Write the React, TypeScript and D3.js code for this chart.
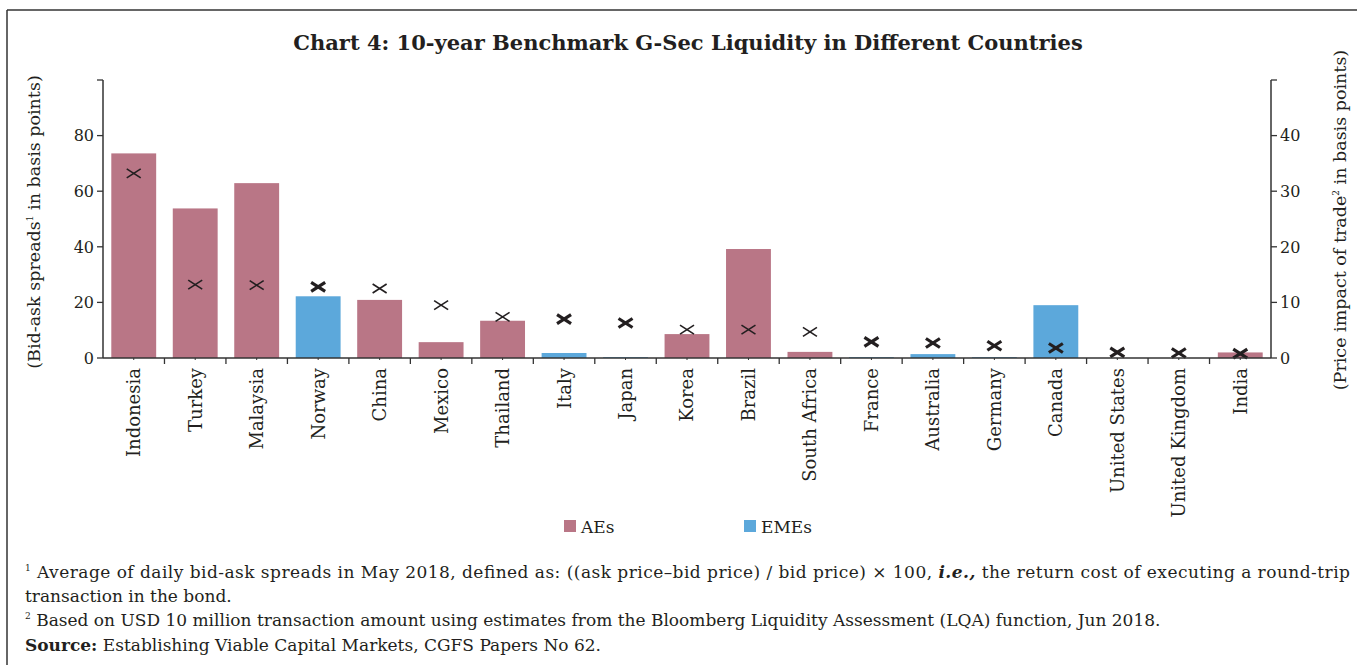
import React from 'react';
import * as d3 from 'd3';

const countries = ['Indonesia', 'Turkey', 'Malaysia', 'Norway', 'China', 'Mexico', 'Thailand', 'Italy', 'Japan', 'Korea', 'Brazil', 'South Africa', 'France', 'Australia', 'Germany', 'Canada', 'United States', 'United Kingdom', 'India'];
const groups = ['AEs', 'AEs', 'AEs', 'EMEs', 'AEs', 'AEs', 'AEs', 'EMEs', 'EMEs', 'AEs', 'AEs', 'AEs', 'EMEs', 'EMEs', 'EMEs', 'EMEs', 'EMEs', 'EMEs', 'AEs'];
// bid-ask spread, left axis
const bidAsk = [73.6, 53.8, 62.9, 22.2, 20.9, 5.7, 13.4, 1.8, 0.3, 8.6, 39.2, 2.2, 0.3, 1.4, 0.3, 19.0, 0, 0, 2.0];
// price impact of trade, right axis
const priceImpact = [33.2, 13.2, 13.1, 12.8, 12.5, 9.5, 7.4, 7.0, 6.3, 5.1, 5.1, 4.7, 2.9, 2.7, 2.2, 1.8, 1.0, 0.9, 0.8];
const heavyMarkers = ['Norway', 'Italy', 'Japan', 'France', 'Australia', 'Germany', 'Canada', 'United States', 'United Kingdom', 'India'];
const leftTicks = [0, 20, 40, 60, 80];
const rightTicks = [0, 10, 20, 30, 40];
const legendItems = ['AEs', 'EMEs'];

const colors: Record<string, string> = { AEs: '#b97686', EMEs: '#5ca8db' };
const font = '"DejaVu Serif", serif';
const ink = '#231f20';

const App = () => {
    const W = 1357, H = 665;
    const left = 103, right = 1271, top = 80, bottom = 358;

    const x = d3.scaleBand<string>()
        .domain(countries)
        .range([left, right])
        .paddingInner(0.27)
        .paddingOuter(0.135);
    const yL = d3.scaleLinear().domain([0, 100]).range([bottom, top]);
    const yR = d3.scaleLinear().domain([0, 50]).range([bottom, top]);
    const step = x.step();

    return (
        <svg width={W} height={H} style={{ position: 'absolute', left: 0, top: 0, background: '#fff' }} fontFamily={font}>
            {/* frame */}
            <line x1={7} x2={W} y1={10} y2={10} stroke="#666" strokeWidth={2} />
            <line x1={7} x2={7} y1={10} y2={H} stroke="#333" strokeWidth={1.5} />

            <text x={688} y={50} textAnchor="middle" fontSize={21} fontWeight="bold" fill={ink}>
                Chart 4: 10-year Benchmark G-Sec Liquidity in Different Countries
            </text>

            {/* bars */}
            {countries.map((c, i) =>
                <rect key={c} x={x(c)} width={x.bandwidth()} y={yL(bidAsk[i])} height={bottom - yL(bidAsk[i])}
                    fill={colors[groups[i]]} />
            )}

            {/* price impact markers */}
            {countries.map((c, i) => {
                const cx = x(c)! + x.bandwidth() / 2;
                const cy = yR(priceImpact[i]);
                const heavy = heavyMarkers.includes(c);
                const dx = 7, dy = 4.5;
                return (
                    <g key={c} stroke={ink} strokeWidth={heavy ? 3.2 : 1.6}>
                        <line x1={cx - dx} x2={cx + dx} y1={cy - dy} y2={cy + dy} />
                        <line x1={cx - dx} x2={cx + dx} y1={cy + dy} y2={cy - dy} />
                    </g>
                );
            })}

            {/* left axis */}
            <line x1={left} x2={left} y1={top} y2={bottom} stroke="#333" strokeWidth={1.5} />
            {leftTicks.map(t =>
                <g key={t}>
                    <line x1={left - 6} x2={left} y1={yL(t)} y2={yL(t)} stroke="#333" strokeWidth={1.3} />
                    <text x={left - 9} y={yL(t)} dy="0.36em" textAnchor="end" fontSize={16} fill={ink}>{t}</text>
                </g>
            )}
            <line x1={left - 6} x2={left} y1={top} y2={top} stroke="#333" strokeWidth={1.3} />

            {/* right axis */}
            <line x1={right} x2={right} y1={top} y2={bottom} stroke="#333" strokeWidth={1.5} />
            {rightTicks.map(t =>
                <g key={t}>
                    <line x1={right} x2={right + 6} y1={yR(t)} y2={yR(t)} stroke="#333" strokeWidth={1.3} />
                    <text x={right + 9} y={yR(t)} dy="0.36em" fontSize={16} fill={ink}>{t}</text>
                </g>
            )}
            <line x1={right} x2={right + 6} y1={top} y2={top} stroke="#333" strokeWidth={1.3} />

            {/* x axis */}
            <line x1={left} x2={right} y1={bottom} y2={bottom} stroke="#333" strokeWidth={1.5} />
            {countries.map((c, i) => {
                const cx = x(c)! + x.bandwidth() / 2;
                return (
                    <g key={c}>
                        {i > 0 && <line x1={cx - step / 2} x2={cx - step / 2} y1={bottom} y2={bottom + 6} stroke="#333" strokeWidth={1.3} />}
                        <line x1={cx} x2={cx} y1={bottom} y2={bottom + 2} stroke="#333" strokeWidth={1} />
                        <text transform={`translate(${cx},${bottom + 10}) rotate(-90)`} dy="0.36em" textAnchor="end" fontSize={18} fill={ink}>{c}</text>
                    </g>
                );
            })}

            {/* axis titles */}
            <text transform={`translate(34,222) rotate(-90)`} dy="0.36em" textAnchor="middle" fontSize={17.5} fill={ink}>
                (Bid-ask spreads<tspan fontSize={9} dy={-7}>1</tspan><tspan dy={7}> in basis points)</tspan>
            </text>
            <text transform={`translate(1340,220) rotate(-90)`} dy="0.36em" textAnchor="middle" fontSize={17.5} fill={ink}>
                (Price impact of trade<tspan fontSize={9} dy={-7}>2</tspan><tspan dy={7}> in basis points)</tspan>
            </text>

            {/* legend */}
            {legendItems.map((g, i) => {
                const lx = [564, 744][i];
                return (
                    <g key={g}>
                        <rect x={lx} y={520} width={12} height={12} fill={colors[g]} />
                        <text x={lx + 17} y={533} fontSize={17} fill={ink}>{g}</text>
                    </g>
                );
            })}

            {/* notes */}
            <g fontSize={17} fill={ink}>
                <text x={25} y={578} textLength={1325}>
                    <tspan fontSize={9} dy={-7}>1</tspan><tspan dy={7}> Average of daily bid-ask spreads in May 2018, defined as: ((ask price–bid price) / bid price) × 100, </tspan><tspan fontStyle="italic" fontWeight="bold">i.e.,</tspan> the return cost of executing a round-trip
                </text>
                <text x={25} y={602}>transaction in the bond.</text>
                <text x={25} y={626}>
                    <tspan fontSize={9} dy={-7}>2</tspan><tspan dy={7}> Based on USD 10 million transaction amount using estimates from the Bloomberg Liquidity Assessment (LQA) function, Jun 2018.</tspan>
                </text>
                <text x={25} y={651}>
                    <tspan fontWeight="bold">Source:</tspan> Establishing Viable Capital Markets, CGFS Papers No 62.
                </text>
            </g>
        </svg>
    );
};

export default App;
